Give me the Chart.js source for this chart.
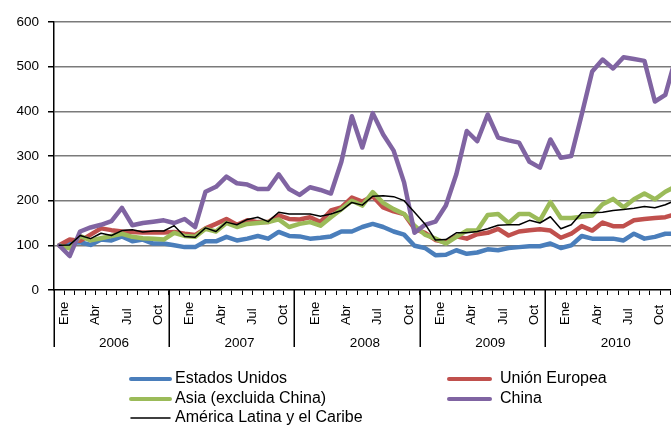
<!DOCTYPE html>
<html><head><meta charset="utf-8">
<script src="https://cdn.jsdelivr.net/npm/chart.js@4"></script>
<style>
html,body{margin:0;padding:0;background:#fff;overflow:hidden;width:671px;height:426px}
#wrap{position:absolute;left:0;top:0;width:700px;height:426px}
</style>
</head><body><div id="wrap"><canvas id="c" width="700" height="426"></canvas></div>
<script>
// ---- data ----
const years = ['2006','2007','2008','2009','2010'];
const monthNames = ['Ene','Feb','Mar','Abr','May','Jun','Jul','Ago','Sep','Oct','Nov','Dic'];
const shownMonths = ['Ene','Abr','Jul','Oct'];
const yTicks = [0,100,200,300,400,500,600];
const categories = [];
years.forEach(y => monthNames.forEach(m => categories.push(m + ' ' + y)));

const estadosUnidos = [100,105,107,101,113,111,120,109,113,104,104,100,
  96,96,109,109,119,111,115,121,115,130,121,120,
  115,117,120,131,131,141,148,141,131,124,99,94,
  78,79,89,81,84,91,89,94,96,98,98,104,
  94,100,121,115,115,115,111,126,115,119,126,126];
const unionEuropea = [100,113,110,124,138,134,131,130,129,129,129,130,
  126,123,138,148,159,146,156,152,152,167,159,158,
  163,152,178,185,207,198,210,185,176,170,137,128,
  112,107,120,115,125,128,137,122,131,134,136,133,
  117,126,143,133,151,143,143,156,159,161,163,170];
const asia = [100,93,121,111,116,121,126,119,116,115,113,128,
  121,119,137,131,150,141,148,150,152,158,141,148,
  152,144,163,181,200,189,219,195,181,170,144,124,
  115,104,119,133,133,168,170,150,170,170,156,197,
  161,161,164,167,192,204,185,203,216,203,220,232];
const china = [100,76,131,140,146,154,184,145,150,153,156,150,
  159,141,220,231,254,239,236,226,226,259,226,213,
  230,224,216,287,389,319,396,348,312,241,128,146,
  153,189,259,356,333,393,341,335,330,287,274,337,
  296,300,393,489,516,496,521,517,513,422,437,520];
const americaLatina = [100,101,122,115,127,122,133,135,130,132,132,144,
  120,118,139,131,152,146,158,163,153,174,170,170,
  170,165,170,178,196,190,210,211,209,200,174,148,
  112,113,128,128,131,137,145,146,146,156,150,164,
  137,146,173,173,174,178,180,183,187,184,191,201];

const seriesNames = ['Estados Unidos','Unión Europea','Asia (excluida China)','China','América Latina y el Caribe'];
const seriesColors = ['#4A7EBB','#C0504D','#9BBB59','#8064A2','#000000'];

const FONT = '"Liberation Sans", Arial, sans-serif';

const decorPlugin = {
  id: 'decor',
  afterDraw(chart) {
    const ctx = chart.ctx;
    const xs = chart.scales.x;
    const area = chart.chartArea;
    const step = xs.getPixelForValue(1) - xs.getPixelForValue(0);
    ctx.save();
    // month labels
    ctx.fillStyle = '#000';
    ctx.font = '13px ' + FONT;
    ctx.textAlign = 'left';
    ctx.textBaseline = 'middle';
    categories.forEach((c, i) => {
      const m = c.split(' ')[0];
      if (!shownMonths.includes(m)) return;
      const x = xs.getPixelForValue(i) + 5;
      ctx.save();
      ctx.translate(x, 325);
      ctx.rotate(-Math.PI / 2);
      ctx.fillText(m, 0, 0);
      ctx.restore();
    });
    // year separators
    ctx.strokeStyle = '#000';
    ctx.lineWidth = 1.5;
    const bounds = [0, 11, 23, 35, 47];
    bounds.forEach(k => {
      const x = Math.round(xs.getPixelForValue(k) - step / 2) + 0.25;
      ctx.beginPath();
      ctx.moveTo(x, area.bottom);
      ctx.lineTo(x, 347);
      ctx.stroke();
    });
    // year labels
    ctx.font = '13.5px ' + FONT;
    ctx.textAlign = 'center';
    years.forEach((y, k) => {
      const x = xs.getPixelForValue(5.75 + 12 * k) - step / 2;
      ctx.fillText(y, x, 343);
    });
    // legend
    const items = [
      {s: 0, lx: 131, rx: 170, tx: 175, y: 379},
      {s: 1, lx: 449, rx: 490, tx: 500, y: 379},
      {s: 2, lx: 131, rx: 170, tx: 175, y: 399},
      {s: 3, lx: 449, rx: 490, tx: 500, y: 399},
      {s: 4, lx: 131, rx: 170, tx: 175, y: 418}
    ];
    ctx.font = '16px ' + FONT;
    ctx.textAlign = 'left';
    items.forEach(it => {
      ctx.strokeStyle = seriesColors[it.s];
      ctx.lineWidth = it.s === 4 ? 1.5 : 4;
      ctx.lineCap = 'round';
      ctx.beginPath();
      ctx.moveTo(it.lx, it.y);
      ctx.lineTo(it.rx, it.y);
      ctx.stroke();
      ctx.fillStyle = '#000';
      ctx.fillText(seriesNames[it.s], it.tx, it.y);
    });
    ctx.restore();
  }
};

const seriesData = [estadosUnidos, unionEuropea, asia, china, americaLatina];
const datasets = seriesData.map((d, i) => ({
  label: seriesNames[i],
  data: d,
  borderColor: seriesColors[i],
  backgroundColor: seriesColors[i],
  borderWidth: i === 4 ? 1.5 : 4.5,
  pointRadius: 0,
  tension: 0,
  fill: false,
  borderJoinStyle: 'round',
  borderCapStyle: 'round',
  order: 5 - i
}));

new Chart(document.getElementById('c'), {
  type: 'line',
  data: { labels: categories, datasets },
  options: {
    responsive: false,
    animation: false,
    devicePixelRatio: 1,
    layout: { padding: { top: 22, left: 0, right: 19, bottom: 0 } },
    plugins: { legend: { display: false }, tooltip: { enabled: false } },
    scales: {
      x: {
        type: 'category',
        offset: true,
        grid: { offset: true, drawOnChartArea: false, drawTicks: true, tickLength: 5, color: '#000', lineWidth: 1 },
        border: { display: true, color: '#000', width: 1.5 },
        ticks: { display: false, autoSkip: false },
        afterFit(s) { s.height = 136; }
      },
      y: {
        min: 0, max: 600,
        afterBuildTicks(s) { s.ticks = yTicks.map(v => ({ value: v })); },
        grid: {
          color: c => (c.tick && c.tick.value === 0) ? 'rgba(0,0,0,0)' : '#7a7a7a',
          lineWidth: 1.5,
          borderDash: [7, 5],
          drawTicks: true,
          tickLength: 6,
          tickColor: '#000',
          tickWidth: 1.5,
          tickBorderDash: []
        },
        border: { display: true, color: '#000', width: 1.5 },
        ticks: { color: '#000', padding: 9, font: { family: FONT, size: 13.5 } },
        afterFit(s) { s.width = 54; }
      }
    }
  },
  plugins: [decorPlugin]
});
</script>
</body></html>
